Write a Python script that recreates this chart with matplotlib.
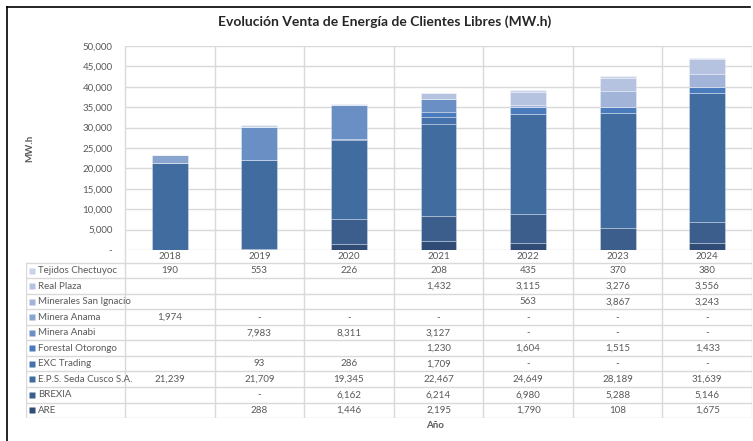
import numpy as np
import matplotlib
matplotlib.use("Agg")
import matplotlib.pyplot as plt
from matplotlib.lines import Line2D

plt.rcParams['font.family'] = ['Lato', 'DejaVu Sans']

years = ['2018', '2019', '2020', '2021', '2022', '2023', '2024']

# series from bottom of the stack to the top; None = empty cell, 0 = "-"
series_names = ['ARE', 'BREXIA', 'E.P.S. Seda Cusco S.A.', 'EXC Trading',
                'Forestal Otorongo', 'Minera Anabi', 'Minera Anama',
                'Minerales San Ignacio', 'Real Plaza', 'Tejidos Chectuyoc']
are = [None, 288, 1446, 2195, 1790, 108, 1675]
brexia = [None, 0, 6162, 6214, 6980, 5288, 5146]
eps_cusco = [21239, 21709, 19345, 22467, 24649, 28189, 31639]
exc = [None, 93, 286, 1709, 0, 0, 0]
forestal = [None, None, None, 1230, 1604, 1515, 1433]
anabi = [None, 7983, 8311, 3127, 0, 0, 0]
anama = [1974, 0, 0, 0, 0, 0, 0]
minerales = [None, None, None, None, 563, 3867, 3243]
real_plaza = [None, None, None, 1432, 3115, 3276, 3556]
tejidos = [190, 553, 226, 208, 435, 370, 380]
series_vals = [are, brexia, eps_cusco, exc, forestal, anabi, anama,
               minerales, real_plaza, tejidos]

colors = ['#2f4b76', '#3b5e8d', '#416ca0', '#4572aa', '#4a7cbd', '#6a8fc4',
          '#89a4cf', '#a2b4d7', '#b6c3e0', '#c9d3e9']

W, H = 753, 441
fig = plt.figure(figsize=(W / 100, H / 100), dpi=100)

# pixel layout
plot_l, plot_r, plot_t, plot_b = 125, 752, 46, 250
tab_l, tab_t, row_h = 26, 263, 15.5
n_rows = len(series_names)
tab_b = tab_t + row_h * n_rows
unit = (plot_r - plot_l) / len(years)
x_left = -0.5 - (plot_l - tab_l) / unit

grid_c = '#d9d9d9'
txt_c = '#595959'

# background axes for table and vertical grid
tab = fig.add_axes([tab_l / W, 1 - tab_b / H, (plot_r - tab_l) / W, (tab_b - plot_t) / H])
tab.set_xlim(x_left, len(years) - 0.5)
tab.set_ylim(tab_b, plot_t)
tab.axis('off')

for k in range(len(years) + 1):
    tab.plot([k - 0.5, k - 0.5], [plot_t, tab_b], color=grid_c, lw=1, zorder=0)
tab.plot([x_left, x_left], [tab_t, tab_b], color=grid_c, lw=1, zorder=0)
for r in range(n_rows + 1):
    y = tab_t + r * row_h
    tab.plot([x_left, len(years) - 0.5], [y, y], color=grid_c, lw=1, zorder=0)

for i, yr in enumerate(years):
    tab.text(i, (plot_b + tab_t) / 2 + 0.5, yr, ha='center', va='center', fontsize=7, color=txt_c)

# table rows: top row is the top of the stack
for r, idx in enumerate(range(n_rows - 1, -1, -1)):
    yc = tab_t + (r + 0.5) * row_h
    tab.plot(x_left + 0.07, yc, marker='s', ms=3.8, color=colors[idx], mec='none')
    tab.text(x_left + 0.13, yc, series_names[idx], ha='left', va='center', fontsize=7, color=txt_c)
    for i, v in enumerate(series_vals[idx]):
        if v is None:
            continue
        s = '-' if v == 0 else f'{v:,}'
        tab.text(i, yc, s, ha='center', va='center', fontsize=7, color=txt_c)

# main chart
ax = fig.add_axes([plot_l / W, 1 - plot_b / H, (plot_r - plot_l) / W, (plot_b - plot_t) / H])
ax.patch.set_alpha(0)
ax.set_xlim(-0.5, len(years) - 0.5)
ax.set_ylim(0, 50000)
yt = np.arange(0, 50001, 5000)
ax.set_yticks(yt)
ax.set_yticklabels(['-'] + [f'{int(v):,}' for v in yt[1:]])
ax.tick_params(axis='y', length=0, labelsize=7, labelcolor=txt_c, pad=9)
ax.set_xticks([])
for s in ax.spines.values():
    s.set_visible(False)
ax.yaxis.grid(True, color=grid_c, lw=1)
ax.set_axisbelow(True)

x = np.arange(len(years))
bottom = np.zeros(len(years))
for vals, c in zip(series_vals, colors):
    v = np.array([0 if a is None else a for a in vals], dtype=float)
    ax.bar(x, v, 0.4, bottom=bottom, color=c, edgecolor=(1, 1, 1, 0.35), linewidth=0.6, zorder=2)
    bottom += v

fig.text(385 / W, 1 - 22 / H, 'Evolución Venta de Energía de Clientes Libres (MW.h)',
         ha='center', va='center', fontsize=10, fontweight='bold', color='#262626')
fig.text(30 / W, 1 - 148 / H, 'MW.h', rotation=90, ha='center', va='center',
         fontsize=7, fontweight='bold', color=txt_c)
fig.text(435 / W, 1 - 426 / H, 'Año', ha='center', va='center',
         fontsize=7, fontweight='bold', color=txt_c)

# screenshot frame lines (top and left)
fig.add_artist(Line2D([7 / W, 750 / W], [1 - 7 / H, 1 - 7 / H], color='black', lw=1.2))
fig.add_artist(Line2D([7 / W, 7 / W], [0, 1 - 7 / H], color='black', lw=1.2))

fig.savefig('out.png', dpi=100)
